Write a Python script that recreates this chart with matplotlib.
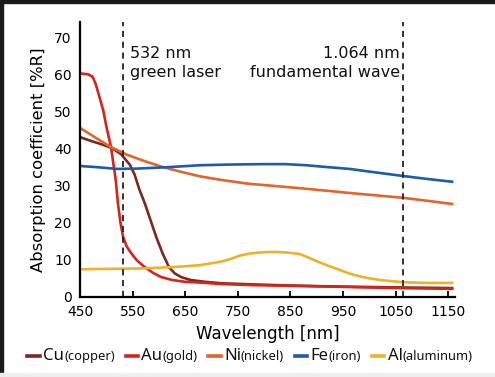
import matplotlib
matplotlib.use("Agg")
import matplotlib.pyplot as plt
from matplotlib.lines import Line2D
from matplotlib.patches import Rectangle
from matplotlib.offsetbox import HPacker, TextArea, DrawingArea, AnchoredOffsetbox

# values (wavelength nm, absorption %R)
cu_x = [450, 470, 490, 510, 528, 545, 554, 563, 573, 584, 595, 607, 619, 630, 642, 660, 688, 720, 780, 850, 950, 1050, 1160]
cu_y = [43.2, 42.2, 41.3, 40.3, 38.6, 35.7, 33.0, 29.0, 25.4, 20.8, 16.2, 11.8, 8.1, 6.4, 5.4, 4.6, 4.1, 3.7, 3.4, 3.1, 2.8, 2.6, 2.4]

au_x = [450, 465, 474, 480, 487, 494, 501, 509, 514, 518, 522, 527, 532, 539, 547, 558, 573, 588, 604, 625, 650, 678, 720, 780, 860, 963, 1060, 1160]
au_y = [60.4, 60.2, 59.5, 57.5, 54.0, 50.5, 45.5, 40.5, 35.5, 31.6, 25.4, 20.0, 16.2, 13.6, 11.9, 9.9, 8.1, 6.6, 5.4, 4.6, 4.1, 3.9, 3.5, 3.2, 3.0, 2.7, 2.4, 2.2]

ni_x = [450, 480, 509, 540, 575, 608, 640, 678, 720, 770, 820, 868, 920, 963, 1010, 1064, 1110, 1160]
ni_y = [45.7, 43.0, 40.5, 38.4, 36.6, 35.1, 33.9, 32.6, 31.6, 30.6, 30.0, 29.4, 28.7, 28.1, 27.5, 26.8, 26.0, 25.1]

fe_x = [450, 480, 522, 560, 620, 678, 740, 800, 840, 880, 920, 963, 1010, 1064, 1110, 1160]
fe_y = [35.4, 35.1, 34.6, 34.7, 35.1, 35.6, 35.8, 35.9, 35.9, 35.6, 35.1, 34.6, 33.7, 32.7, 31.9, 31.1]

al_x = [450, 500, 560, 600, 640, 678, 716, 735, 754, 775, 800, 821, 845, 868, 887, 905, 919, 944, 963, 990, 1020, 1064, 1110, 1160]
al_y = [7.5, 7.6, 7.7, 7.9, 8.2, 8.6, 9.5, 10.2, 11.2, 11.8, 12.1, 12.2, 12.0, 11.6, 10.5, 9.4, 8.6, 7.3, 6.3, 5.3, 4.6, 4.0, 3.8, 3.8]

x_ticks = [450, 550, 650, 750, 850, 950, 1050, 1150]
y_ticks = [0, 10, 20, 30, 40, 50, 60, 70]
laser_lines = [532, 1064]

names = ["Cu", "Au", "Ni", "Fe", "Al"]
subs = ["(copper)", "(gold)", "(nickel)", "(iron)", "(aluminum)"]
colors = ["#7a2a1e", "#d3261b", "#e2662c", "#1c5ca8", "#ebb22b"]

fig = plt.figure(figsize=(4.95, 3.77), dpi=100)
ax = fig.add_axes([80/495, 1-297/377, 375/495, 275/377])

series = [(cu_x, cu_y), (au_x, au_y), (ni_x, ni_y), (fe_x, fe_y), (al_x, al_y)]
for (xs, ys), c in zip(series, colors):
    ax.plot(xs, ys, color=c, lw=1.9, solid_capstyle="butt", solid_joinstyle="round")

for w in laser_lines:
    ax.axvline(w, color="#222222", lw=1.3, dashes=(3.4, 2.6))

ax.text(545, 63.2, "532 nm\ngreen laser", ha="left", va="center",
        fontsize=11.5, linespacing=1.3, color="#111111")
ax.text(1058, 63.2, "1.064 nm\nfundamental wave", ha="right", va="center",
        fontsize=11.5, linespacing=1.3, multialignment="right", color="#111111")

ax.set_xlim(450, 1163)
ax.set_ylim(0, 74.3)
ax.set_xticks(x_ticks)
ax.set_yticks(y_ticks)
ax.tick_params(axis="x", direction="in", length=4, width=1.3, labelsize=10, pad=6)
ax.tick_params(axis="y", length=0, labelsize=10, pad=6)
for s in ["top", "right"]:
    ax.spines[s].set_visible(False)
for s in ["left", "bottom"]:
    ax.spines[s].set_linewidth(1.6)
ax.set_xlabel("Wavelength [nm]", fontsize=12, labelpad=4)
ax.set_ylabel("Absorption coefficient [%R]", fontsize=11.8, labelpad=6)

# legend: short line, big symbol, small name
entries = []
for n, sb, c in zip(names, subs, colors):
    da = DrawingArea(9, 7, 0, 0)
    da.add_artist(Line2D([0, 9], [3, 3], color=c, lw=2.6))
    t1 = TextArea(n, textprops=dict(size=12, family="Noto Sans", color="#111111"))
    t2 = TextArea(sb, textprops=dict(size=9.3, family="Noto Sans", color="#111111"))
    entries.append(HPacker(children=[da, HPacker(children=[t1, t2], sep=0, align="baseline")],
                           sep=2.5, align="baseline"))
leg = HPacker(children=entries, sep=7.5, align="baseline")
box = AnchoredOffsetbox(loc="center", child=leg, pad=0, frameon=False,
                        bbox_to_anchor=(250/495, 1-356/377), bbox_transform=fig.transFigure)
fig.add_artist(box)

# screenshot frame
fig.patches.append(Rectangle((0, 1-3/377), 1, 3/377, transform=fig.transFigure, color="#1a1a1a", zorder=0))
fig.patches.append(Rectangle((0, 0), 3/495, 1, transform=fig.transFigure, color="#1a1a1a", zorder=0))
fig.patches.append(Rectangle((0, 0), 1, 4/377, transform=fig.transFigure, color="#eeeeee", zorder=0))

fig.savefig("out.png", dpi=100)
